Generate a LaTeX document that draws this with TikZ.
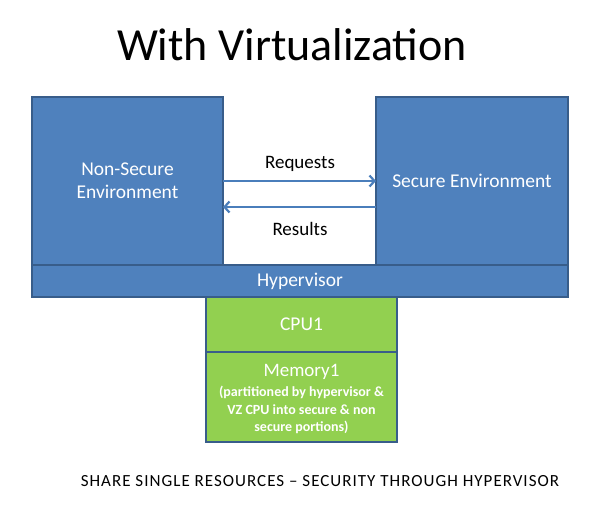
\documentclass[tikz,border=0pt]{standalone}
\usepackage{fontspec}
\setmainfont{Carlito}
\usetikzlibrary{arrows.meta}
\definecolor{boxblue}{HTML}{4F81BD}
\definecolor{edgeblue}{HTML}{385D8A}
\definecolor{boxgreen}{HTML}{92D050}
\definecolor{arrowblue}{HTML}{4A7EBB}
\begin{document}
\begin{tikzpicture}[x=1pt,y=-1pt,
  bluebox/.style={draw=edgeblue,fill=boxblue,line width=1.5pt,text=white,align=center,inner sep=0pt,font=\fontsize{19.5}{23}\selectfont},
  greenbox/.style={draw=edgeblue,fill=boxgreen,line width=1.5pt,text=white,align=center,inner sep=0pt,font=\fontsize{19.5}{23}\selectfont},
  memnote/.style={text=white,inner sep=0pt,font=\bfseries\fontsize{14}{17}\selectfont},
  flow/.style={draw=arrowblue,line width=2.2pt,-{Straight Barb[length=5pt,width=11pt]}},
  lbl/.style={font=\fontsize{19}{22}\selectfont,text=black}]
\useasboundingbox (0,0) rectangle (600,507);
\node[font=\fontsize{46}{54}\selectfont] (title) at (292,45) {With Virtualization};
\node[bluebox,minimum width=191pt,minimum height=168pt] (ns) at (127.5,181) {Non-Secure\\Environment};
\node[bluebox,minimum width=192pt,minimum height=168pt] (se) at (472,181) {Secure Environment};
\node[bluebox,minimum width=536pt,minimum height=32pt] (hv) at (300,281) {Hypervisor};
\node[greenbox,minimum width=191pt,minimum height=55pt] (cpu) at (301.5,324.5) {CPU1};
\node[greenbox,minimum width=191pt,minimum height=90pt] (mem) at (301.5,397) {};
\node[text=white,inner sep=0pt,font=\fontsize{19}{22}\selectfont] (memt) at (301.5,372) {Memory1};
\node[memnote] (m1) at (301.5,392) {(partitioned by hypervisor \&};
\node[memnote] (m2) at (301.5,410) {VZ CPU into secure \& non};
\node[memnote] (m3) at (301.5,427) {secure portions)};
\coordinate (r1) at (223,181);
\coordinate (r2) at (376,181);
\coordinate (s1) at (376,207);
\coordinate (s2) at (223,207);
\draw[flow] (r1) -- (r2);
\draw[flow] (s1) -- (s2);
\node[lbl] (req) at (300,164) {Requests};
\node[lbl] (res) at (300,229) {Results};
\node[font=\fontsize{17}{20}\selectfont\addfontfeature{LetterSpace=6}] (cap) at (320,481) {SHARE SINGLE RESOURCES -- SECURITY THROUGH HYPERVISOR};
\end{tikzpicture}
\end{document}
